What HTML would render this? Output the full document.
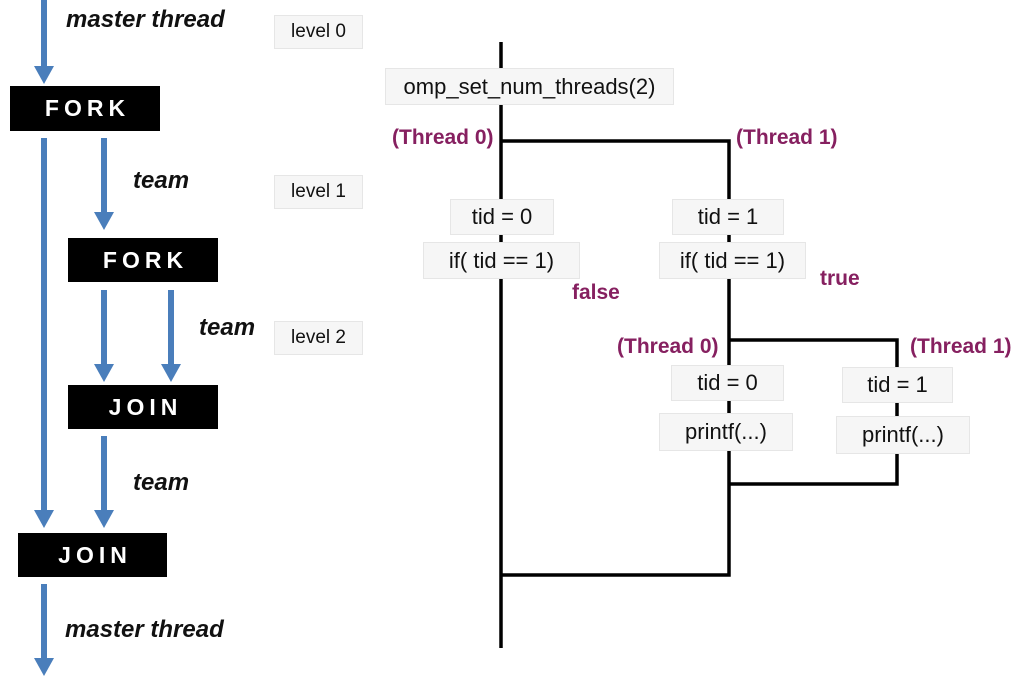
<!DOCTYPE html>
<html><head><meta charset="utf-8"><style>
html,body{margin:0;padding:0;background:#fff;}
body{width:1020px;height:684px;position:relative;overflow:hidden;font-family:"Liberation Sans","Noto Sans CJK KR",sans-serif;}
.b{position:absolute;background:#f6f6f6;border:1px solid #e6e6e6;box-sizing:border-box;display:flex;align-items:center;justify-content:center;font-size:22px;color:#111;white-space:nowrap;}
.lv{font-size:19px;}
.k{position:absolute;background:#000;color:#fff;font-weight:bold;font-size:23px;letter-spacing:5px;padding-left:5px;display:flex;align-items:center;justify-content:center;box-sizing:border-box;}
.t{position:absolute;font-style:italic;font-weight:bold;font-size:24px;color:#111;white-space:nowrap;}
.p{position:absolute;color:#862060;font-size:21px;font-weight:bold;white-space:nowrap;}
</style></head><body>
<svg width="1020" height="684" style="position:absolute;left:0;top:0">
<g fill="#4a7ebb">
<rect x="41" y="0" width="6" height="68"/><polygon points="34,66 54,66 44,84"/>
<rect x="41" y="138" width="6" height="374"/><polygon points="34,510 54,510 44,528"/>
<rect x="101" y="138" width="6" height="76"/><polygon points="94,212 114,212 104,230"/>
<rect x="101" y="290" width="6" height="76"/><polygon points="94,364 114,364 104,382"/>
<rect x="168" y="290" width="6" height="76"/><polygon points="161,364 181,364 171,382"/>
<rect x="101" y="436" width="6" height="76"/><polygon points="94,510 114,510 104,528"/>
<rect x="41" y="584" width="6" height="76"/><polygon points="34,658 54,658 44,676"/>
</g>
<g stroke="#000" stroke-width="3.5" fill="none">
<line x1="501" y1="42" x2="501" y2="648"/>
<polyline points="501,141 729,141 729,575 501,575"/>
<polyline points="729,340 897,340 897,484 729,484"/>
</g>
</svg>
<div class="t" style="left:66px;top:6px">master thread</div>
<div class="t" style="left:133px;top:167px">team</div>
<div class="t" style="left:199px;top:314px">team</div>
<div class="t" style="left:133px;top:469px">team</div>
<div class="t" style="left:65px;top:616px">master thread</div>
<div class="k" style="left:10px;top:86px;width:150px;height:45px">FORK</div>
<div class="k" style="left:68px;top:238px;width:150px;height:44px">FORK</div>
<div class="k" style="left:68px;top:385px;width:150px;height:44px">JOIN</div>
<div class="k" style="left:18px;top:533px;width:149px;height:44px">JOIN</div>
<div class="b lv" style="left:274px;top:15px;width:89px;height:34px">level 0</div>
<div class="b lv" style="left:274px;top:175px;width:89px;height:34px">level 1</div>
<div class="b lv" style="left:274px;top:321px;width:89px;height:34px">level 2</div>
<div class="b" style="left:385px;top:68px;width:289px;height:37px">omp_set_num_threads(2)</div>
<div class="p" style="left:392px;top:126px">(Thread 0)</div>
<div class="p" style="left:736px;top:126px">(Thread 1)</div>
<div class="b" style="left:450px;top:199px;width:104px;height:36px">tid = 0</div>
<div class="b" style="left:423px;top:242px;width:157px;height:37px">if( tid == 1)</div>
<div class="p" style="left:572px;top:281px">false</div>
<div class="b" style="left:672px;top:199px;width:112px;height:36px">tid = 1</div>
<div class="b" style="left:659px;top:242px;width:147px;height:37px">if( tid == 1)</div>
<div class="p" style="left:820px;top:267px">true</div>
<div class="p" style="left:617px;top:335px">(Thread 0)</div>
<div class="p" style="left:910px;top:335px">(Thread 1)</div>
<div class="b" style="left:671px;top:365px;width:113px;height:36px">tid = 0</div>
<div class="b" style="left:659px;top:413px;width:134px;height:38px">printf(...)</div>
<div class="b" style="left:842px;top:367px;width:111px;height:36px">tid = 1</div>
<div class="b" style="left:836px;top:416px;width:134px;height:38px">printf(...)</div>
</body></html>
